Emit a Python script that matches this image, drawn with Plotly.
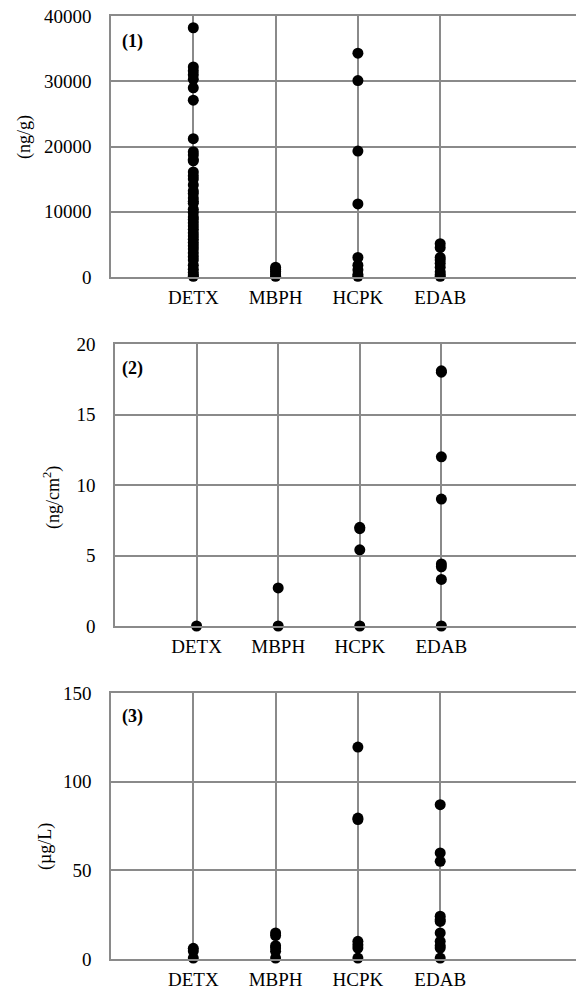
import plotly.graph_objects as go

categories = ["DETX", "MBPH", "HCPK", "EDAB"]

# Panel (1): ng/g
p1_DETX = [38200, 32200, 31600, 31000, 30300, 29000, 27100, 21200, 19200, 18700, 18000,
           17800, 16100, 15500, 15000, 14100, 13200, 12800, 12100, 11600, 11300, 10400,
           9900, 9200, 8800, 8300, 7800, 7300, 6800, 6300, 5800, 5300, 4800, 4300, 3700,
           3100, 2600, 1800, 1200, 700, 300, 100]
p1_MBPH = [1500, 1200, 900, 600, 300, 100]
p1_HCPK = [34300, 30100, 19300, 11200, 3000, 1800, 1100, 400, 100]
p1_EDAB = [5100, 4500, 3000, 2600, 2100, 1500, 800, 400, 100]

# Panel (2): ng/cm2
p2_DETX = [0]
p2_MBPH = [2.7, 0]
p2_HCPK = [7.0, 6.9, 5.4, 0]
p2_EDAB = [18.1, 18.0, 12.0, 9.0, 4.4, 4.2, 3.3, 0]

# Panel (3): ug/L
p3_DETX = [6, 4.5, 0.5]
p3_MBPH = [14.7, 13.2, 7.5, 6.2, 4.3, 0.5]
p3_HCPK = [119.5, 79.5, 78.6, 10, 8.1, 6.2, 0.5]
p3_EDAB = [87, 59.8, 55.1, 24.1, 22.2, 21.2, 14.7, 10, 7.5, 6.2, 0.5]

panels = [
    [p1_DETX, p1_MBPH, p1_HCPK, p1_EDAB],
    [p2_DETX, p2_MBPH, p2_HCPK, p2_EDAB],
    [p3_DETX, p3_MBPH, p3_HCPK, p3_EDAB],
]
y_ranges = [[0, 40000], [0, 20], [0, 150]]
y_dtick = [10000, 5, 50]
y_titles = ["(ng/g)", "(ng/cm<sup>2</sup>)", "(µg/L)"]
panel_tags = ["(1)", "(2)", "(3)"]

W, H = 576, 987
# pixel layout (top, bottom, left) of each plot area
boxes = [(16, 277, 111), (344, 626, 115), (693, 959, 111)]
ytitle_pos = [(24, 137), (52, 498), (45, 847)]
tag_pos = [(132, 42), (132, 368), (132, 716)]

FONT = "Liberation Serif, Times New Roman, serif"
GRID = "#8a8a8a"

fig = go.Figure()
for i, series in enumerate(panels):
    xs, ys = [], []
    for ci, vals in enumerate(series):
        for v in vals:
            xs.append(ci + 1)
            ys.append(v)
    suf = "" if i == 0 else str(i + 1)
    fig.add_trace(go.Scatter(
        x=xs, y=ys, mode="markers",
        marker=dict(color="black", size=11, line=dict(width=0)),
        xaxis="x" + suf, yaxis="y" + suf, showlegend=False, cliponaxis=False,
    ))
    top, bot, left = boxes[i]
    fig.layout["xaxis" + suf] = dict(
        domain=[left / W, 1], range=[0, 5.65], anchor="y" + suf,
        tickvals=[1, 2, 3, 4], ticktext=categories,
        showgrid=True, gridcolor=GRID, gridwidth=1.5,
        showline=True, linecolor=GRID, linewidth=1.5, mirror=True,
        zeroline=False, ticks="", ticklabelstandoff=2,
        tickfont=dict(family=FONT, size=19, color="black"),
        automargin=False, fixedrange=True,
    )
    fig.layout["yaxis" + suf] = dict(
        domain=[1 - bot / H, 1 - top / H], range=y_ranges[i], anchor="x" + suf,
        dtick=y_dtick[i], tick0=0, tickformat="d",
        showgrid=True, gridcolor=GRID, gridwidth=1.5,
        showline=True, linecolor=GRID, linewidth=1.5, mirror=False,
        zeroline=False, ticks="", ticklabelstandoff=14,
        tickfont=dict(family=FONT, size=19, color="black"),
        automargin=False, fixedrange=True,
    )
    tx, ty = ytitle_pos[i]
    fig.add_annotation(x=tx / W, y=1 - ty / H, xref="paper", yref="paper",
                       xanchor="center", yanchor="middle",
                       text=y_titles[i], textangle=-90, showarrow=False,
                       font=dict(family=FONT, size=18, color="black"))
    px, py = tag_pos[i]
    fig.add_annotation(x=px / W, y=1 - py / H, xref="paper", yref="paper",
                       xanchor="center", yanchor="middle",
                       text="<b>" + panel_tags[i] + "</b>", showarrow=False,
                       font=dict(family=FONT, size=18, color="black"))

fig.update_layout(
    width=W, height=H, margin=dict(l=0, r=0, t=0, b=0),
    paper_bgcolor="white", plot_bgcolor="white",
    font=dict(family=FONT, color="black"),
)
fig.write_html("out.html", config={"displayModeBar": False},
               post_script="document.body.style.margin='0';document.body.style.overflow='hidden';")
